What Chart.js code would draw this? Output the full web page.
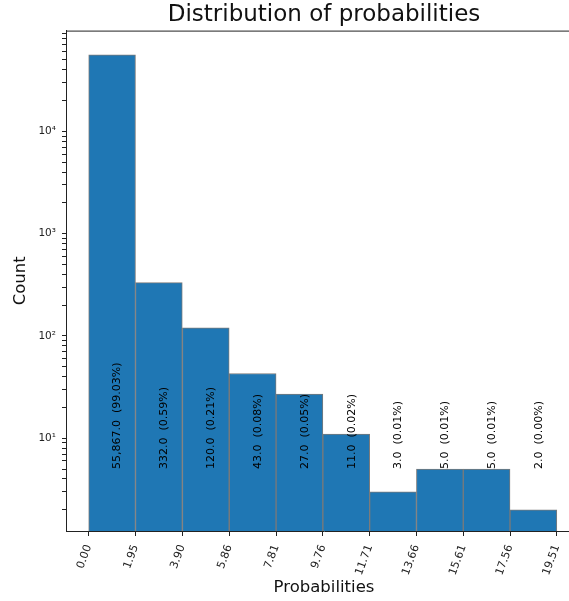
<!DOCTYPE html>
<html>
<head>
<meta charset="utf-8">
<script src="https://cdn.jsdelivr.net/npm/chart.js@4/dist/chart.umd.min.js"></script>
<style>
html,body{margin:0;padding:0;background:#fff;overflow:hidden;width:569px;height:601px;}
#wrap{width:569px;height:601px;overflow:hidden;}
canvas{display:block;}
</style>
</head>
<body>
<div id="wrap"><canvas id="c" width="582" height="601"></canvas></div>
<script>
// ---- data ----
const binEdges = [0.00, 1.95, 3.90, 5.86, 7.81, 9.76, 11.71, 13.66, 15.61, 17.56, 19.51];
const edgeLabels = ["0.00","1.95","3.90","5.86","7.81","9.76","11.71","13.66","15.61","17.56","19.51"];
const counts = [55867, 332, 120, 43, 27, 11, 3, 5, 5, 2];
const percents = ["99.03","0.59","0.21","0.08","0.05","0.02","0.01","0.01","0.01","0.00"];
const annotationY = 5;

const centers = counts.map((_, i) => (binEdges[i] + binEdges[i + 1]) / 2);
const sup = {"0":"\u2070","1":"\u00B9","2":"\u00B2","3":"\u00B3","4":"\u2074","5":"\u2075"};
const FONT = "'DejaVu Sans', sans-serif";

const annotate = {
  id: 'annotate',
  afterDatasetsDraw(chart) {
    const {ctx, scales: {x, y}} = chart;
    ctx.save();
    ctx.font = "11px " + FONT;
    ctx.fillStyle = "#000";
    ctx.textAlign = "left";
    ctx.textBaseline = "top";
    counts.forEach((c, i) => {
      const px = x.getPixelForValue(centers[i]);
      const py = y.getPixelForValue(annotationY);
      const txt = c.toLocaleString('en-US', {minimumFractionDigits: 1, maximumFractionDigits: 1}) + "  (" + percents[i] + "%)";
      ctx.save();
      ctx.translate(px, py);
      ctx.rotate(-Math.PI / 2);
      ctx.fillText(txt, 0, 0);
      ctx.restore();
    });
    ctx.restore();
  },
  afterDraw(chart) {
    const {ctx, chartArea} = chart;
    ctx.save();
    ctx.strokeStyle = "#222";
    ctx.lineWidth = 1;
    ctx.beginPath();
    ctx.moveTo(chartArea.left, chartArea.top + 0.5);
    ctx.lineTo(chartArea.right, chartArea.top + 0.5);
    ctx.stroke();
    ctx.restore();
  }
};

new Chart(document.getElementById('c'), {
  type: 'bar',
  data: {
    datasets: [{
      data: centers.map((c, i) => ({x: c, y: counts[i]})),
      backgroundColor: '#1f77b4',
      borderColor: '#7a7a7a',
      borderWidth: 1,
      barPercentage: 1,
      categoryPercentage: 1,
      grouped: false
    }]
  },
  options: {
    responsive: false,
    animation: false,
    devicePixelRatio: 1,
    layout: {padding: 0},
    plugins: {
      legend: {display: false},
      tooltip: {enabled: false},
      title: {
        display: true,
        text: 'Distribution of probabilities',
        fullSize: false,
        color: '#111',
        font: {family: FONT, size: 23, weight: 'normal'},
        padding: {top: 1, bottom: 2}
      }
    },
    scales: {
      x: {
        type: 'linear',
        offset: false,
        min: -0.946,
        max: 20.56,
        afterFit(s) { s.height = 70; },
        afterBuildTicks(s) { s.ticks = binEdges.map(v => ({value: v})); },
        grid: {display: true, offset: false, drawOnChartArea: false, drawTicks: true, tickLength: 5, color: '#222'},
        border: {display: true, color: '#222', width: 1},
        ticks: {
          autoSkip: false,
          minRotation: 70,
          maxRotation: 70,
          padding: 7,
          color: '#222',
          font: {family: FONT, size: 11},
          callback: (v, i) => edgeLabels[i]
        },
        title: {
          display: true,
          text: 'Probabilities',
          color: '#111',
          font: {family: FONT, size: 16.5},
          padding: {top: 0, bottom: 3}
        }
      },
      y: {
        type: 'logarithmic',
        min: 1.24,
        max: 96600,
        afterFit(s) { s.width = 66; },
        afterBuildTicks(s) {
          const t = [];
          for (let k = 0; k <= 4; k++) {
            for (let m = 1; m <= 9; m++) {
              const v = m * Math.pow(10, k);
              if (v >= s.min && v <= s.max) t.push({value: v, major: m === 1});
            }
          }
          s.ticks = t;
        },
        grid: {display: true, drawOnChartArea: false, drawTicks: true, tickLength: 4, color: '#222'},
        border: {display: true, color: '#222', width: 1},
        ticks: {
          autoSkip: false,
          padding: 6,
          color: '#222',
          font: {family: FONT, size: 10.5},
          callback: function (v) {
            const e = Math.log10(v);
            if (Math.abs(e - Math.round(e)) < 1e-9) return '10' + sup[String(Math.round(e))];
            return '';
          }
        },
        title: {
          display: true,
          text: 'Count',
          color: '#111',
          font: {family: FONT, size: 16.5},
          padding: {top: 11, bottom: 0}
        }
      }
    }
  },
  plugins: [annotate]
});
</script>
</body>
</html>
